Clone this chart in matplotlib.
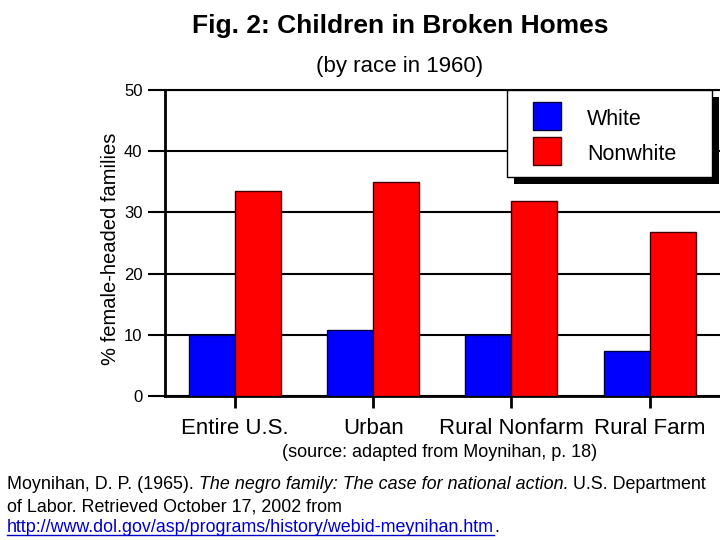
import matplotlib
matplotlib.use('Agg')
import matplotlib.pyplot as plt
from matplotlib.patches import Rectangle
from matplotlib.lines import Line2D
import numpy as np

# data (percent of families headed by a woman, 1960)
categories = ['Entire U.S.', 'Urban', 'Rural Nonfarm', 'Rural Farm']
series_names = ['White', 'Nonwhite']
white = [10.0, 10.8, 10.0, 7.3]
nonwhite = [33.5, 34.9, 31.8, 26.8]
yticks = [0, 10, 20, 30, 40, 50]
colors = ['#0000ff', '#ff0000']
edges = ['#000040', '#400000']

W, H = 720, 540
plt.rcParams['font.family'] = ['Liberation Sans', 'DejaVu Sans']

fig = plt.figure(figsize=(7.2, 5.4), dpi=100)

# pixel -> figure fraction
def fx(px):
    return px / W
def fy(py):
    return 1 - py / H

ax = fig.add_axes([fx(165), fy(396), fx(720) - fx(165), fy(90) - fy(396)])
x = np.arange(len(categories))
bw = 0.333
ax.bar(x - bw / 2, white, bw, color=colors[0], edgecolor=edges[0], lw=1, zorder=3)
ax.bar(x + bw / 2, nonwhite, bw, color=colors[1], edgecolor=edges[1], lw=1, zorder=3)
ax.set_xlim(-0.507, 3.51)
ax.set_ylim(0, 50)

ax.set_yticks(yticks)
ax.set_xticks(x)
ax.set_xticklabels(categories, fontsize=16)
ax.tick_params(axis='y', direction='out', length=12.2, width=1.5, pad=4, labelsize=12)
ax.tick_params(axis='x', direction='out', length=8.6, width=2, pad=7)
ax.set_axisbelow(True)
ax.grid(axis='y', color='black', lw=1.5)
ax.grid(axis='x', visible=False)
ax.spines['right'].set_visible(False)
ax.spines['left'].set_linewidth(2)
ax.spines['bottom'].set_linewidth(2)
ax.spines['top'].set_linewidth(1.5)

# titles and labels
fig.text(fx(400), fy(33), 'Fig. 2: Children in Broken Homes', ha='center', va='baseline',
         fontsize=19, fontweight='bold')
fig.text(fx(400), fy(72), '(by race in 1960)', ha='center', va='baseline', fontsize=16)
fig.text(fx(110), fy(249), '% female-headed families', ha='center', va='center',
         rotation=90, fontsize=14.5)
fig.text(fx(440), fy(457), '(source: adapted from Moynihan, p. 18)', ha='center',
         va='baseline', fontsize=13)

# legend box with hard black shadow
lw_, lh_ = fx(712) - fx(507), fy(90) - fy(177)
fig.patches.append(Rectangle((fx(514), fy(184)), lw_, lh_, transform=fig.transFigure,
                             facecolor='black', edgecolor='none', zorder=4))
fig.patches.append(Rectangle((fx(507), fy(177)), lw_, lh_, transform=fig.transFigure,
                             facecolor='white', edgecolor='black', lw=1, zorder=5))
tops = [102, 137]
for name, c, e, t in zip(series_names, colors, edges, tops):
    fig.patches.append(Rectangle((fx(533), fy(t + 28)), fx(561) - fx(533), fy(t) - fy(t + 28),
                                 transform=fig.transFigure, facecolor=c, edgecolor=e,
                                 lw=1, zorder=6))
    fig.text(fx(587), fy(t + 23), name, ha='left', va='baseline', fontsize=15.5, zorder=7)

# citation under the chart
renderer = fig.canvas.get_renderer()
def line(pieces, y0):
    xpos = 7
    out = []
    for s, style, col in pieces:
        t = fig.text(fx(xpos), fy(y0), s, ha='left', va='baseline', fontsize=12.9,
                     style=style, color=col)
        w = t.get_window_extent(renderer).width
        out.append((t, xpos, w))
        xpos += w
    return out

line([('Moynihan, D. P. (1965). ', 'normal', 'black'),
      ('The negro family: The case for national action.', 'italic', 'black'),
      (' U.S. Department', 'normal', 'black')], 489)
line([('of Labor. Retrieved October 17, 2002 from', 'normal', 'black')], 511)
parts = line([('http://www.dol.gov/asp/programs/history/webid-meynihan.htm', 'normal', '#0000cc'),
              ('.', 'normal', 'black')], 532)
t0, x0, w0 = parts[0]
fig.add_artist(Line2D([fx(x0), fx(x0 + w0)], [fy(535), fy(535)], color='#0000cc', lw=1))

fig.savefig('out.png', dpi=100)
